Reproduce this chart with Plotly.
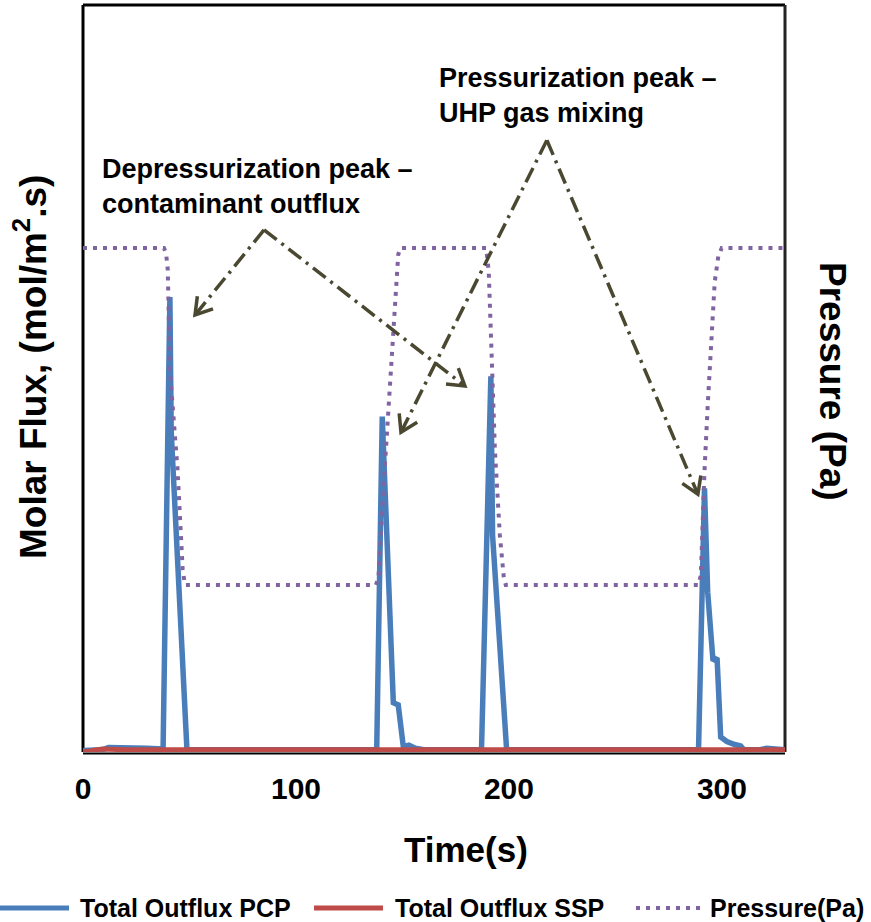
import math
import plotly.graph_objects as go

# ---- data -------------------------------------------------------------
# Total outflux, PCP (mol/m2.s)
time_pcp = [0, 9, 12, 20, 30, 37.6, 40.8, 41.4, 48.8, 70, 137.9, 140.5, 142.9,
            145.7, 148.0, 150.4, 153, 156, 160, 187.1, 191.5, 192.3, 198.9,
            289.0, 291.8, 293.3, 295.8, 297.7, 299.4, 302.3, 306, 308.8, 310.3,
            318, 321, 326, 329.6]
flux_pcp = [0.002, 0.003, 0.006, 0.006, 0.005, 0.004, 0.609, 0.43, 0.003, 0.003,
            0.003, 0.449, 0.284, 0.066, 0.063, 0.007, 0.009, 0.005, 0.003, 0.003,
            0.503, 0.29, 0.003, 0.003, 0.353, 0.214, 0.122, 0.126, 0.020, 0.014,
            0.010, 0.008, 0.003, 0.003, 0.005, 0.004, 0.003]

# Total outflux, SSP (mol/m2.s)
time_ssp = [0, 9, 20, 329.6]
flux_ssp = [0.0, 0.004, 0.003, 0.003]

# Column pressure (Pa)
time_p = [0, 38.0, 39.0, 39.8, 40.8, 44.4, 46.8, 47.9, 137.5, 138.7, 141.2, 143.8,
          146.2, 148.0, 149.0, 189.3, 190.5, 191.9, 193.4, 195.7, 197.6, 198.5,
          289.0, 290.1, 291.8, 293.4, 295.0, 296.6, 298.3, 299.9, 329.6]
pressure = [200000, 200000, 198500, 193500, 163800, 134100, 104500, 100000,
            100000, 102000, 130000, 156000, 182000, 198000, 200000, 200000,
            193000, 170000, 140000, 115000, 102000, 100000, 100000, 103000,
            133800, 154300, 174800, 189900, 197600, 200000, 200000]

x_ticks = [0, 100, 200, 300]
x_range = [0, 329.6]
flux_range = [0, 1.0]
pressure_range = [50445, 272107]

# callout arrows: apex and tip points in (time, flux) units
callouts = [
    ((85.0, 0.699), [(52.6, 0.585), (179.3, 0.490)]),
    ((217.8, 0.819), [(149.3, 0.428), (288.7, 0.345)]),
]

# ---- styling ------------------------------------------------------------
W, H = 871, 922
ML, MR, MT, MB = 83, 86, 5, 170
PW, PH = W - ML - MR, H - MT - MB
FONT = "Liberation Sans, Arial, sans-serif"
BLUE, RED, PURPLE, OLIVE = "#4A7EBB", "#BE4B48", "#8064A2", "#4A4830"
DOTS = dict(color=PURPLE, width=4, dash="4px,6px")

fig = go.Figure()
fig.add_trace(go.Scatter(x=time_pcp, y=flux_pcp, mode="lines", name="Total Outflux PCP",
                         line=dict(color=BLUE, width=5.5)))
fig.add_trace(go.Scatter(x=time_ssp, y=flux_ssp, mode="lines", name="Total Outflux SSP",
                         line=dict(color=RED, width=5)))
fig.add_trace(go.Scatter(x=time_p, y=pressure, mode="lines", name="Pressure(Pa)",
                         yaxis="y2", line=DOTS))


def to_px(t, v):
    return t / (x_range[1] - x_range[0]) * PW, v / (flux_range[1] - flux_range[0]) * PH


def to_data(px, py):
    return px / PW * (x_range[1] - x_range[0]), py / PH * (flux_range[1] - flux_range[0])


shapes = []
for apex, tips in callouts:
    for tip in tips:
        shapes.append(dict(type="line", xref="x", yref="y", x0=apex[0], y0=apex[1],
                           x1=tip[0], y1=tip[1],
                           line=dict(color=OLIVE, width=3.5, dash="16px,6px,3px,6px")))
        ax, ay = to_px(*apex)
        tx, ty = to_px(*tip)
        ang = math.atan2(ay - ty, ax - tx)
        pts = []
        for s in (1, -1):
            a = ang + s * math.radians(32)
            pts.append(to_data(tx + 19 * math.cos(a), ty + 19 * math.sin(a)))
        path = "M{:.3f},{:.4f} L{:.3f},{:.4f} L{:.3f},{:.4f}".format(
            pts[0][0], pts[0][1], tip[0], tip[1], pts[1][0], pts[1][1])
        shapes.append(dict(type="path", xref="x", yref="y", path=path,
                           line=dict(color=OLIVE, width=3.5)))

# plot frame
shapes += [
    dict(type="line", xref="paper", yref="paper", x0=0, x1=0, y0=0, y1=1,
         line=dict(color="black", width=3), layer="below"),
    dict(type="line", xref="paper", yref="paper", x0=0, x1=1, y0=1, y1=1,
         line=dict(color="black", width=3), layer="below"),
    dict(type="line", xref="paper", yref="paper", x0=1, x1=1, y0=0, y1=1,
         line=dict(color="#222222", width=3), layer="below"),
    dict(type="line", xref="paper", yref="paper", x0=0, x1=1, y0=-0.002, y1=-0.002,
         line=dict(color="black", width=2), layer="below"),
]

# legend row
leg_y = (MB - (H - 908)) / PH * -1
leg_items = [
    (0, 69, 78, "Total Outflux PCP", dict(color=BLUE, width=5)),
    (314, 383, 393, "Total Outflux SSP", dict(color=RED, width=5)),
    (636, 700, 708, "Pressure(Pa)", DOTS),
]
annotations = []
for x0, x1, xt, label, ln in leg_items:
    shapes.append(dict(type="line", xref="paper", yref="paper",
                       x0=(x0 - ML) / PW, x1=(x1 - ML) / PW, y0=leg_y, y1=leg_y, line=ln))
    annotations.append(dict(text="<b>" + label + "</b>", xref="paper", yref="paper",
                            x=(xt - ML) / PW, y=leg_y, xanchor="left", yanchor="middle",
                            showarrow=False, font=dict(family=FONT, size=25, color="black")))

annotations += [
    dict(text="<b>Depressurization peak –<br>contaminant outflux</b>", xref="paper",
         yref="paper", x=(100 - ML) / PW, y=(752 - 186) / PH, xanchor="left",
         yanchor="middle", align="left", showarrow=False,
         font=dict(family=FONT, size=27, color="black")),
    dict(text="<b>Pressurization peak –<br>UHP gas mixing</b>", xref="paper",
         yref="paper", x=(437 - ML) / PW, y=(752 - 96) / PH, xanchor="left",
         yanchor="middle", align="left", showarrow=False,
         font=dict(family=FONT, size=27, color="black")),
    dict(text="<b>Time(s)</b>", xref="paper", yref="paper", x=(466 - ML) / PW,
         y=(752 - 849) / PH, xanchor="center", yanchor="middle", showarrow=False,
         font=dict(family=FONT, size=35, color="black")),
    dict(text="<b>Molar Flux, (mol/m<sup>2</sup>.s)</b>", xref="paper", yref="paper",
         x=(30 - ML) / PW, y=(752 - 367) / PH, xanchor="center", yanchor="middle",
         textangle=-90, showarrow=False, font=dict(family=FONT, size=37, color="black")),
    dict(text="<b>Pressure (Pa)</b>", xref="paper", yref="paper", x=(833 - ML) / PW,
         y=(752 - 381) / PH, xanchor="center", yanchor="middle", textangle=90,
         showarrow=False, font=dict(family=FONT, size=37, color="black")),
]

fig.update_layout(
    width=W, height=H,
    margin=dict(l=ML, r=MR, t=MT, b=MB),
    paper_bgcolor="white", plot_bgcolor="white",
    showlegend=False,
    xaxis=dict(range=x_range, tickvals=x_ticks, ticktext=[str(v) for v in x_ticks],
               ticks="", showgrid=False, zeroline=False, showline=False,
               ticklabelstandoff=16,
               tickfont=dict(family=FONT, size=30, color="black", weight="bold")),
    yaxis=dict(range=flux_range, showticklabels=False, ticks="", showgrid=False,
               zeroline=False, showline=False),
    yaxis2=dict(range=pressure_range, overlaying="y", side="right", showticklabels=False,
                ticks="", showgrid=False, zeroline=False, showline=False),
    shapes=shapes,
    annotations=annotations,
)

fig.write_html("out.html")
